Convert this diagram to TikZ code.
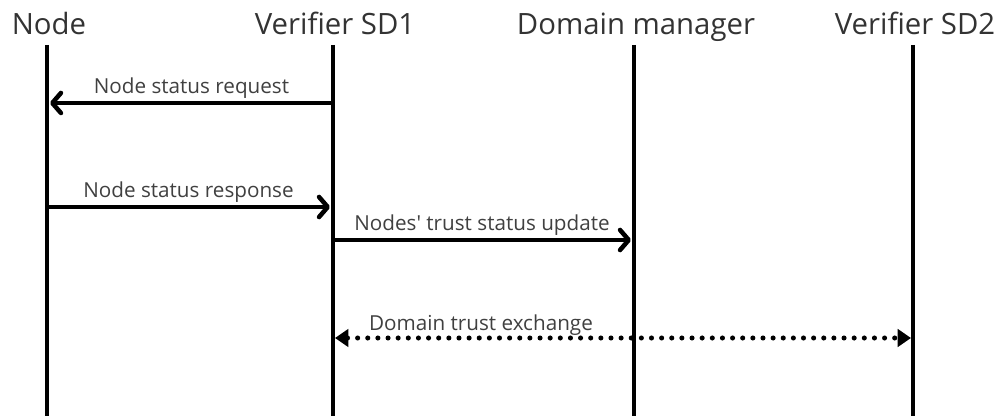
\documentclass[tikz,border=0pt]{standalone}
\usepackage{fontspec}
\setmainfont{Open Sans}
\usetikzlibrary{arrows.meta,positioning}

\begin{document}
\begin{tikzpicture}[x=0.75pt,y=-0.75pt,
  head/.style={font=\fontsize{22}{26}\selectfont, text=black!80, anchor=base},
  life/.style={line width=3.4pt},
  msg/.style={line width=3.4pt, -{Straight Barb[length=6.5pt,width=15pt,line cap=round,line join=round]}},
  sync/.style={line width=3.8pt, line cap=round, dash pattern=on 0pt off 7.6pt,
    {Triangle[length=10pt,width=13pt]}-{Triangle[length=10pt,width=13pt]}},
  lbl/.style={font=\fontsize{15.5}{18}\selectfont, text=black!75, above, inner sep=2pt}]
  \useasboundingbox (0,0) rectangle (1002,416);

  % lifelines with their headers
  \foreach \n/\x/\t in {node/47/Node, vsd1/333/Verifier SD1,
                        dm/634/Domain manager, vsd2/913/Verifier SD2} {
    \node[head] (\n) at (\x+2,35) {\t};
    \coordinate (\n-top) at (\x,45);
    \coordinate (\n-bot) at (\x,416);
    \draw[life] (\n-top) -- (\n-bot);
  }

  % message points
  \coordinate (vsd1-req) at (333,103);
  \coordinate (node-req) at (50,103);
  \coordinate (node-res) at (47,207);
  \coordinate (vsd1-res) at (330,207);
  \coordinate (vsd1-upd) at (333,240);
  \coordinate (dm-upd) at (631,240);
  \coordinate (vsd1-ex) at (335,338);
  \coordinate (vsd2-ex) at (911,338);

  \draw[msg] (vsd1-req) -- (node-req) node[midway,lbl] {Node status request};
  \draw[msg] (node-res) -- (vsd1-res) node[midway,lbl] {Node status response};
  \draw[msg] (vsd1-upd) -- (dm-upd) node[midway,lbl] {Nodes\textquotesingle{} trust status update};
  \draw[sync] (vsd1-ex) -- (vsd2-ex);
  \node[lbl] (ex) at (481,338) {Domain trust exchange};
\end{tikzpicture}
\end{document}
